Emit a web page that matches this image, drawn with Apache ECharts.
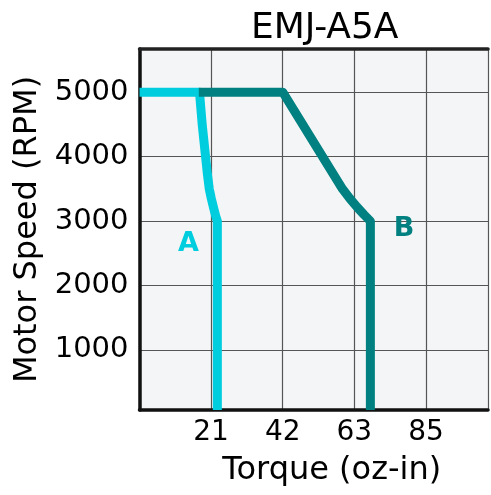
<!DOCTYPE html>
<html>
<head>
<meta charset="utf-8">
<script src="https://cdn.jsdelivr.net/npm/echarts@6/dist/echarts.min.js"></script>
<style>html,body{margin:0;padding:0;background:#fff;}#c{width:491px;height:495px;}</style>
</head>
<body>
<div id="c"></div>
<script>
// Data (torque in oz-in, speed in RPM)
var curveA = [[0,5000],[17.8,5000],[18.2,4750],[18.6,4500],[19.1,4250],[19.6,4000],[20.1,3750],[20.7,3500],[21.3,3350],[22.0,3200],[22.6,3080],[23.1,3000],[23.1,68]];
var curveB = [[17.6,5000],[42.5,5000],[60.2,3500],[62.4,3350],[64.5,3220],[66.6,3100],[68.5,3000],[68.5,68]];
var labelA = [[14.5,2650]];
var labelB = [[78.5,2880]];
var xTickValues = [21.25, 42.5, 63.75, 85];
var xTickLabels = ["21", "42", "63", "85"];
var yTickValues = [1000, 2000, 3000, 4000, 5000];
var yTickLabels = ["1000", "2000", "3000", "4000", "5000"];

function mapLabel(vals, labs, v) {
  for (var i = 0; i < vals.length; i++) if (Math.abs(vals[i] - v) < 0.01) return labs[i];
  return '';
}
var FONT = 'DejaVu Sans';
var CYAN = '#00CDDD', TEAL = '#008080';
var chart = echarts.init(document.getElementById('c'), null, {renderer: 'canvas'});
chart.setOption({
  animation: false,
  backgroundColor: '#fff',
  title: {
    text: 'EMJ-A5A', left: 246, top: 6,
    textStyle: {fontFamily: FONT, fontSize: 36, fontWeight: 'normal', color: '#000'}
  },
  grid: {
    left: 139.5, right: 0, top: 49, bottom: 85,
    show: true, backgroundColor: '#f4f5f7', borderWidth: 0
  },
  xAxis: [{
    type: 'value', min: 0, max: 103.4, interval: 21.25, position: 'bottom',
    name: 'Torque (oz-in)', nameLocation: 'middle', nameGap: 45,
    nameTextStyle: {fontFamily: FONT, fontSize: 32, color: '#000', padding: [0, 0, 0, 36]},
    axisLine: {show: true, onZero: false, lineStyle: {color: '#111', width: 3.5}},
    axisTick: {show: false},
    axisLabel: {fontFamily: FONT, fontSize: 28, color: '#000', margin: 9,
      formatter: function (v) { return mapLabel(xTickValues, xTickLabels, v); }},
    splitLine: {show: true, lineStyle: {color: '#555', width: 1.2}}
  }, {
    type: 'value', min: 0, max: 103.4, interval: 21.25, position: 'top',
    axisLine: {show: true, onZero: false, lineStyle: {color: '#222', width: 3.5}},
    axisTick: {show: false}, axisLabel: {show: false}, splitLine: {show: false}
  }],
  yAxis: {
    type: 'value', min: 68, max: 5670,
    name: 'Motor Speed (RPM)', nameLocation: 'middle', nameGap: 93, nameRotate: 90,
    nameTextStyle: {fontFamily: FONT, fontSize: 32, color: '#000'},
    axisLine: {show: true, onZero: false, lineStyle: {color: '#111', width: 3.5}},
    axisTick: {show: false, customValues: yTickValues},
    axisLabel: {fontFamily: FONT, fontSize: 29, color: '#000', margin: 11, customValues: yTickValues,
      formatter: function (v) { return mapLabel(yTickValues, yTickLabels, v); }},
    splitLine: {show: true, lineStyle: {color: '#555', width: 1.2}}
  },
  series: [{
    type: 'line', data: curveA, showSymbol: false, symbol: 'none',
    lineStyle: {color: CYAN, width: 9, join: 'round'}
  }, {
    type: 'line', data: curveB, showSymbol: false, symbol: 'none',
    lineStyle: {color: TEAL, width: 9, join: 'round'}
  }, {
    type: 'scatter', data: labelA, symbolSize: 0, itemStyle: {color: CYAN, opacity: 1},
    label: {show: true, position: 'inside', formatter: 'A', fontFamily: FONT, fontWeight: 'bold', fontSize: 27, color: CYAN, opacity: 1}
  }, {
    type: 'scatter', data: labelB, symbolSize: 0, itemStyle: {color: TEAL, opacity: 1},
    label: {show: true, position: 'inside', formatter: 'B', fontFamily: FONT, fontWeight: 'bold', fontSize: 27, color: TEAL, opacity: 1}
  }]
});
</script>
</body>
</html>
